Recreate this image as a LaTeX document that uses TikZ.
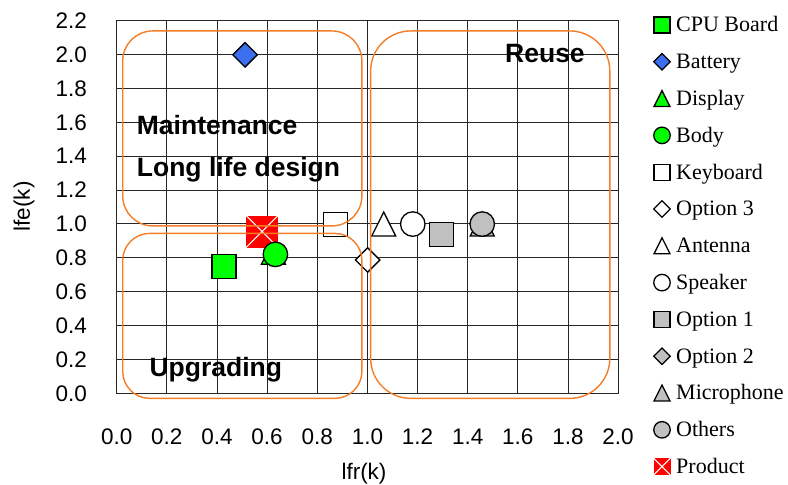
\documentclass[tikz,border=0pt]{standalone}
\usepackage{fontspec}
\setmainfont{Liberation Serif}
\newfontfamily\arialf{Liberation Sans}
\usetikzlibrary{shapes.geometric}
\definecolor{grn}{RGB}{0,255,0}
\definecolor{blu}{RGB}{60,110,240}
\definecolor{gry}{RGB}{192,192,192}
\definecolor{orng}{RGB}{245,125,40}
\definecolor{prd}{RGB}{255,0,0}
\newcommand\trimk[4]{% coordinate, half size, fill, name
  \draw[mk,fill=#3] ([shift={(0,#2)}]#1) -- ([shift={(#2,-#2)}]#1) -- ([shift={(-#2,-#2)}]#1) -- cycle;}
\begin{document}
\begin{tikzpicture}[x=1pt,y=1pt,
  gridl/.style={draw=black!85,line width=0.9pt},
  framel/.style={draw=black!85,line width=1.2pt},
  mk/.style={draw=black,line width=1.3pt,inner sep=0pt},
  sqm/.style={mk,rectangle,minimum size=24pt},
  dim/.style={mk,diamond,minimum size=25pt},
  cim/.style={mk,circle,minimum size=24.5pt},
  lsq/.style={mk,rectangle,minimum size=16pt},
  ldi/.style={mk,diamond,minimum size=17pt},
  lci/.style={mk,circle,minimum size=16.5pt},
  region/.style={draw=orng,line width=1.4pt},
  regtext/.style={font=\arialf\bfseries\fontsize{26.5}{30}\selectfont,anchor=base west,inner sep=0pt},
  tick/.style={font=\arialf\fontsize{22.5}{26}\selectfont,inner sep=0pt},
  legtext/.style={font=\fontsize{22}{26}\selectfont,anchor=base west,inner sep=0pt}]
\useasboundingbox (0,0) rectangle (788,485);
\begin{scope}[shift={(116.7pt,91.7pt)},x=250.7pt,y=169.4pt]
  % grid
  \foreach \i in {1,...,9} \draw[gridl] (\i*0.2,0) -- (\i*0.2,2.2);
  \foreach \j in {1,...,10} \draw[gridl] (0,\j*0.2) -- (2,\j*0.2);
  \draw[framel] (0,0) rectangle (2,2.2);
  % tick labels
  \foreach \t [count=\k from 0] in {0.0,0.2,0.4,0.6,0.8,1.0,1.2,1.4,1.6,1.8,2.0,2.2}
    \node[tick,anchor=east] (yt\k) at ([xshift=-29.7pt]0,\k*0.2) {\t};
  \foreach \t [count=\k from 0] in {0.0,0.2,0.4,0.6,0.8,1.0,1.2,1.4,1.6,1.8,2.0}
    \node[tick,anchor=center] (xt\k) at ([yshift=-43.4pt]\k*0.2,0) {\t};
  % data markers
  \node[sqm,fill=grn] (cpu) at (0.428,0.747) {};
  \node[dim,fill=blu] (bat) at (0.512,1.998) {};
  \coordinate (disp) at (0.625,0.833);
  \trimk{disp}{12pt}{grn}{dispm}
  \node[mk,rectangle,draw=none,fill=prd,minimum size=32pt] (prod) at (0.580,0.955) {};
  \draw[white,line width=1.1pt] (prod.north west) -- (prod.south east) (prod.north east) -- (prod.south west);
  \node[cim,fill=grn] (body) at (0.633,0.820) {};
  \node[sqm,fill=white] (kbd) at (0.873,0.998) {};
  \node[dim,fill=white] (opt3) at (1.001,0.787) {};
  \coordinate (ant) at (1.065,0.999);
  \trimk{ant}{12pt}{white}{antm}
  \node[cim,fill=white] (spk) at (1.181,0.999) {};
  \node[sqm,fill=gry] (opt1) at (1.295,0.936) {};
  \coordinate (mic) at (1.458,0.999);
  \trimk{mic}{12pt}{gry}{micm}
  \node[cim,fill=gry] (oth) at (1.458,0.999) {};
  % regions
  \draw[region,rounded corners=30pt] (0.024,0.988) rectangle (0.978,2.139);
  \draw[region,rounded corners=27pt] (0.024,-0.03) rectangle (0.978,0.944);
  \draw[region,rounded corners=40pt] (1.013,-0.03) rectangle (1.967,2.139);
\end{scope}
% region labels
\node[regtext] (mnt) at (136.7,350) {Maintenance};
\node[regtext] (lld) at (136.7,308.3) {Long life design};
\node[regtext] (reu) at (505,422.7) {Reuse};
\node[regtext] (upg) at (149.3,108.3) {Upgrading};
% axis titles
\node[tick,anchor=base] (xtitle) at (364,5) {lfr(k)};
\node[tick,rotate=90,anchor=center] (ytitle) at (24,278.5) {lfe(k)};
% legend
\node[lsq,fill=grn] (l1) at (662,460) {};
\node[legtext] (t1) at (676,453) {CPU Board};
\node[ldi,fill=blu] (l2) at (662,423.2) {};
\node[legtext] (t2) at (676,416.2) {Battery};
\coordinate (l3) at (662,386.4);
\trimk{l3}{8pt}{grn}{l3m}
\node[legtext] (t3) at (676,379.4) {Display};
\node[lci,fill=grn] (l4) at (662,349.6) {};
\node[legtext] (t4) at (676,342.6) {Body};
\node[lsq,fill=white] (l5) at (662,312.8) {};
\node[legtext] (t5) at (676,305.8) {Keyboard};
\node[ldi,fill=white] (l6) at (662,276) {};
\node[legtext] (t6) at (676,269) {Option 3};
\coordinate (l7) at (662,239.2);
\trimk{l7}{8pt}{white}{l7m}
\node[legtext] (t7) at (676,232.2) {Antenna};
\node[lci,fill=white] (l8) at (662,202.4) {};
\node[legtext] (t8) at (676,195.4) {Speaker};
\node[lsq,fill=gry] (l9) at (662,165.6) {};
\node[legtext] (t9) at (676,158.6) {Option 1};
\node[ldi,fill=gry] (l10) at (662,128.8) {};
\node[legtext] (t10) at (676,121.8) {Option 2};
\coordinate (l11) at (662,92);
\trimk{l11}{8pt}{gry}{l11m}
\node[legtext] (t11) at (676,85) {Microphone};
\node[lci,fill=gry] (l12) at (662,55.2) {};
\node[legtext] (t12) at (676,48.2) {Others};
\node[mk,rectangle,draw=none,fill=prd,minimum size=17pt] (l13) at (662,18.4) {};
\draw[white,line width=1pt] (l13.north west) -- (l13.south east) (l13.north east) -- (l13.south west);
\node[legtext] (t13) at (676,11.4) {Product};
\end{tikzpicture}
\end{document}
